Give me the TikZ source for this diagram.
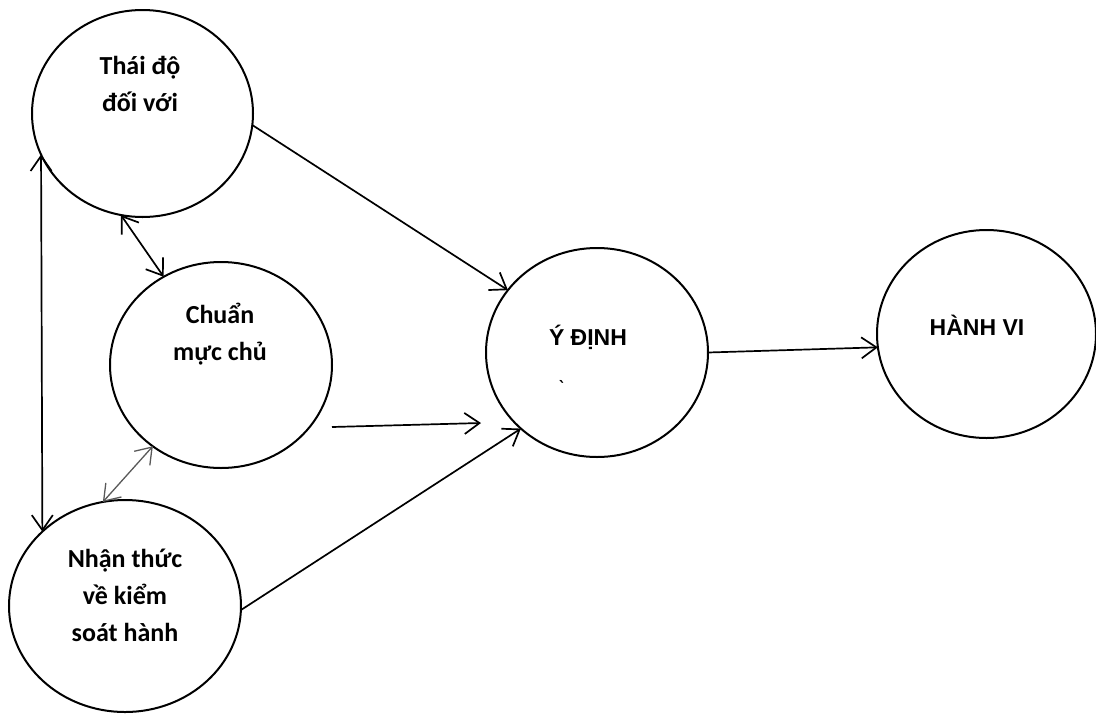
\documentclass[tikz,border=0pt]{standalone}
\usepackage{fontspec}
\newfontfamily\carlitofont{Carlito}
\newfontfamily\arialfont{Liberation Sans}
\usepackage{tikz}
\usetikzlibrary{positioning,arrows.meta}
\usetikzlibrary{shapes.geometric}
\tikzstyle{ellipsenode}=[draw, ellipse, line width=2pt, inner sep=0pt, outer sep=0pt]
\tikzstyle{textnode}=[draw=none, fill=none, align=center, inner sep=0pt, font=\carlitofont\bfseries\fontsize{26}{37}\selectfont]
\tikzstyle{capsnode}=[draw=none, fill=none, inner sep=0pt, font=\arialfont\bfseries\fontsize{23}{27}\selectfont]

\begin{document}
\begin{tikzpicture}[x=1pt, y=-1pt, line width=1.7pt, >={Straight Barb[length=15pt,width=21pt]}]
\useasboundingbox (0,0) rectangle (1096,713);
\node[ellipsenode, minimum width=221pt, minimum height=207pt] (attitude) at (142.5,113.5) {};
\node[ellipsenode, minimum width=222pt, minimum height=206pt] (norm) at (221,365) {};
\node[ellipsenode, minimum width=232pt, minimum height=212pt] (control) at (125,606) {};
\node[ellipsenode, minimum width=222pt, minimum height=209pt] (intention) at (597,352.5) {};
\node[ellipsenode, minimum width=219pt, minimum height=208pt] (behavior) at (986.5,334) {};
\node[textnode] (attitudetext) at (140,84) {Thái độ\\đối với};
\node[textnode] (normtext) at (220,334) {Chuẩn\\mực chủ};
\node[textnode] (controltext) at (125,595) {Nhận thức\\về kiểm\\soát hành};
\node[capsnode] (intentiontext) at (588,337) {Ý ĐỊNH};
\node[capsnode] (behaviortext) at (977,325) {HÀNH VI};
\node[textnode, font=\carlitofont\fontsize{22}{26}\selectfont] (tick) at (561,388) {`};
\coordinate (normout) at (332,427);
\coordinate (intentionin) at (481,423);
\draw (attitude.354) edge[->] (intention.145);
\draw (normout) edge[->] (intentionin);
\draw (control.-2) edge[->] (intention.225);
\draw (intention.0) edge[->] (behavior.187);
\draw (attitude.258) edge[<->] (norm.123);
\draw (norm.230) edge[<->, draw=black!65, line width=1.3pt] (control.102);
\draw (attitude.202) edge[<->] (control.138);
\end{tikzpicture}
\end{document}
